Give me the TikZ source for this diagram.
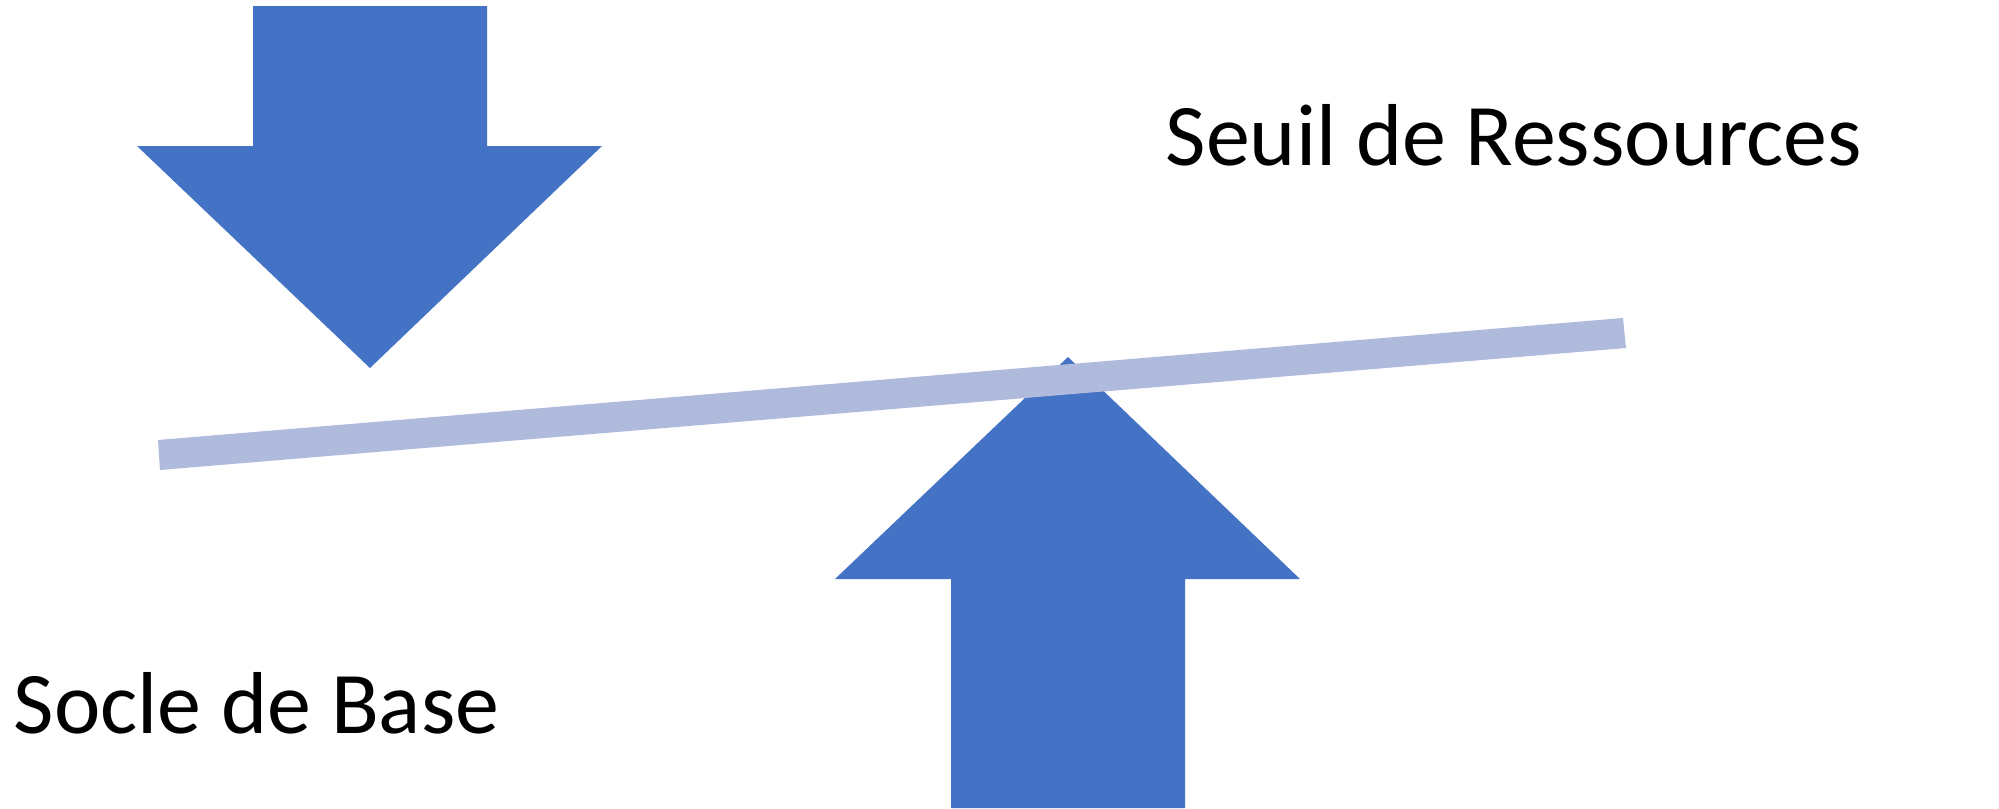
\documentclass[tikz,border=0pt]{standalone}
\usepackage{fontspec}
\setmainfont{Carlito}
\definecolor{arrowblue}{HTML}{4472C4}
\definecolor{barblue}{HTML}{AFBADC}
\begin{document}
\begin{tikzpicture}[x=0.01cm,y=-0.01cm,
  bigarrow/.style={fill=arrowblue,draw=none},
  beam/.style={fill=barblue,draw=none},
  label/.style={font=\fontsize{25}{30}\selectfont,inner sep=0pt,anchor=base west}]
\useasboundingbox[fill=white] (0,0) rectangle (1999,808);
% down arrow
\fill[bigarrow] (253,6) -- (487,6) -- (487,146) -- (602,146) -- (370,368) -- (137,146) -- (253,146) -- cycle;
% up arrow
\fill[bigarrow] (951,808) -- (1185,808) -- (1185,579) -- (1300,579) -- (1068,357) -- (835,579) -- (951,579) -- cycle;
% beam
\fill[beam] (158,440) -- (1623,318) -- (1626,348) -- (160,470) -- cycle;
\node[label] (seuil) at (1165,165) {Seuil de Ressources};
\node[label] (socle) at (13,733) {Socle de Base};
\end{tikzpicture}
\end{document}
